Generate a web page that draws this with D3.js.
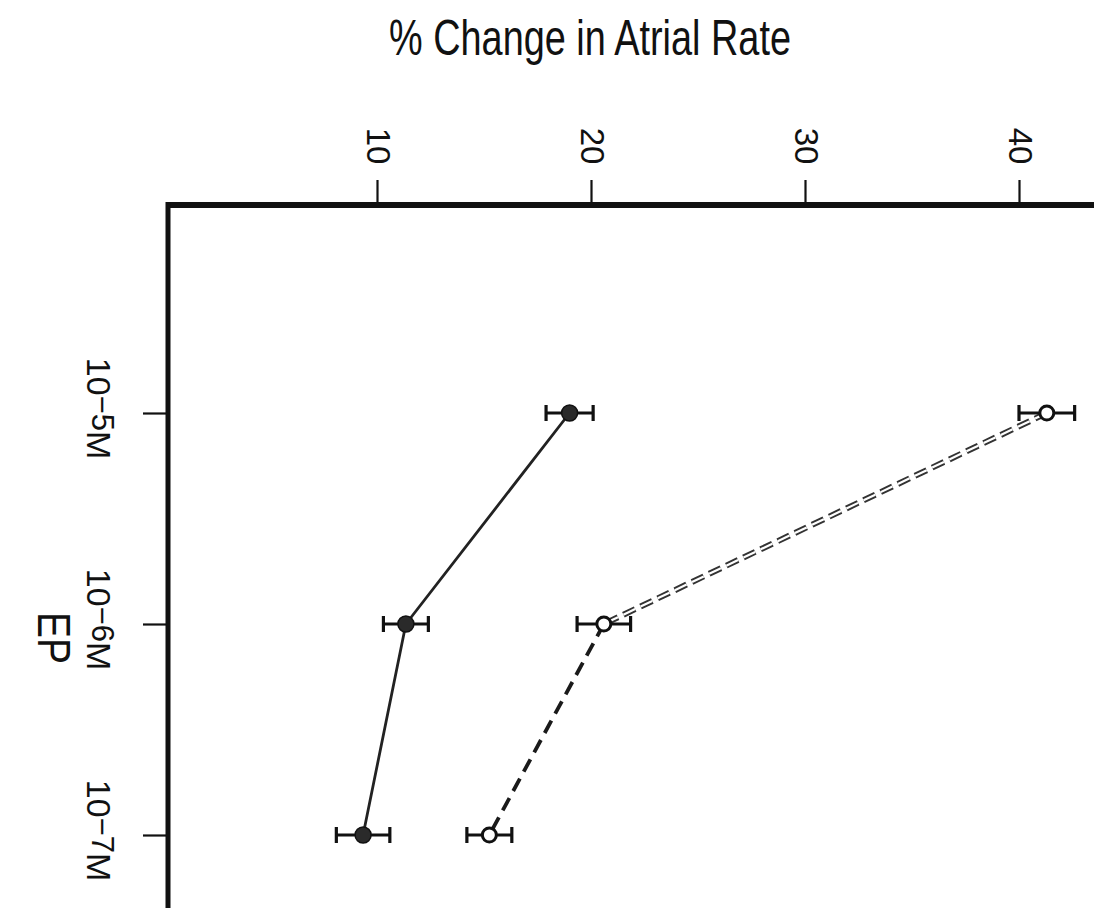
<!DOCTYPE html>
<html>
<head>
<meta charset="utf-8">
<script src="https://cdn.jsdelivr.net/npm/d3@7"></script>
<style>
  html, body { margin: 0; padding: 0; background: #fff; }
  svg { display: block; font-family: "Liberation Sans", Arial, sans-serif; }
</style>
</head>
<body>
<svg id="chart" width="1094" height="908"></svg>
<script>
// Concentrations of EP (categories along the rotated axis)
const concentrations = ["1e-5", "1e-6", "1e-7"];
const exponents = ["5", "6", "7"];

// % change in atrial rate, filled circles (solid line)
const filledMean = [19.0, 11.35, 9.35];
const filledErr  = [1.1, 1.05, 1.25];

// % change in atrial rate, open circles (dashed line)
const openMean = [41.3, 20.6, 15.25];
const openErr  = [1.3, 1.25, 1.05];

// Value axis ticks
const valueTicks = [10, 20, 30, 40];

const svg = d3.select("#chart");
const ink = "#111";

// Value scale runs left-to-right, categories run top-to-bottom
const x = d3.scaleLinear().domain([10, 40]).range([377, 1019]);
const y = d3.scalePoint().domain(concentrations).range([413, 835]);

const axisX = 168;   // left (category) axis position
const axisY = 205;   // top (value) axis position

// Title
svg.append("text")
  .attr("x", 590).attr("y", 55)
  .attr("text-anchor", "middle")
  .attr("font-size", 50)
  .attr("textLength", 402)
  .attr("lengthAdjust", "spacingAndGlyphs")
  .attr("fill", ink)
  .text("% Change in Atrial Rate");

// Top value axis
const gTop = svg.append("g").attr("transform", `translate(0,${axisY})`)
  .call(d3.axisTop(x).tickValues(valueTicks).tickSize(25).tickFormat(d3.format("d")));
gTop.select(".domain").remove();
gTop.selectAll(".tick line").attr("stroke", ink).attr("stroke-width", 2.2);
gTop.selectAll(".tick text")
  .attr("x", 0).attr("y", 0).attr("dy", null)
  .attr("transform", "translate(-11,-59) rotate(90)")
  .attr("text-anchor", "middle")
  .attr("font-size", 33)
  .attr("font-family", "Liberation Sans, Arial, sans-serif")
  .attr("fill", ink);

svg.append("line")
  .attr("x1", axisX - 2).attr("x2", 1094)
  .attr("y1", axisY).attr("y2", axisY)
  .attr("stroke", ink).attr("stroke-width", 6);

// Left category axis
const gLeft = svg.append("g").attr("transform", `translate(${axisX},0)`)
  .call(d3.axisLeft(y).tickSize(25).tickFormat(""));
gLeft.select(".domain").remove();
gLeft.selectAll(".tick line").attr("stroke", ink).attr("stroke-width", 2.2);
gLeft.selectAll(".tick").each(function(d, i) {
  const t = d3.select(this).append("text")
    .attr("transform", "translate(-81,-5) rotate(90)")
    .attr("text-anchor", "middle")
    .attr("font-size", 34)
    .attr("fill", ink);
  t.append("tspan").text("10");
  t.append("tspan").attr("dy", -5).attr("font-size", 31).text("\u2212" + exponents[i]);
  t.append("tspan").attr("dy", 5).text("M");
});

svg.append("line")
  .attr("x1", axisX).attr("x2", axisX)
  .attr("y1", axisY - 3).attr("y2", 908)
  .attr("stroke", ink).attr("stroke-width", 5);

// Category axis title
svg.append("text")
  .attr("transform", `translate(38,${y("1e-6") + 14}) rotate(90)`)
  .attr("text-anchor", "middle")
  .attr("font-size", 46)
  .attr("textLength", 52)
  .attr("lengthAdjust", "spacingAndGlyphs")
  .attr("fill", ink)
  .text("EP");

// Series
const series = [
  { mean: filledMean, err: filledErr, filled: true },
  { mean: openMean,   err: openErr,   filled: false }
];

const line = d3.line().x(d => x(d.v)).y(d => y(d.c));

series.forEach(s => {
  const pts = concentrations.map((c, i) => ({ c, v: s.mean[i], e: s.err[i] }));

  if (s.filled) {
    svg.append("path")
      .datum(pts)
      .attr("fill", "none")
      .attr("stroke", "#222")
      .attr("stroke-width", 2.8)
      .attr("d", line);
  } else {
    // upper segment: hollow (outlined) dashes
    const seg1 = pts.slice(0, 2), seg2 = pts.slice(1);
    svg.append("path").datum(seg1)
      .attr("fill", "none").attr("stroke", "#333")
      .attr("stroke-width", 6).attr("stroke-dasharray", "13,6")
      .attr("d", line);
    svg.append("path").datum(seg1)
      .attr("fill", "none").attr("stroke", "#fff")
      .attr("stroke-width", 2.2).attr("stroke-dasharray", "13,6")
      .attr("d", line);
    // lower segment: solid dashes
    svg.append("path").datum(seg2)
      .attr("fill", "none").attr("stroke", "#1a1a1a")
      .attr("stroke-width", 3.8).attr("stroke-dasharray", "14,8")
      .attr("d", line);
  }

  const eb = svg.append("g").selectAll("g").data(pts).join("g");
  eb.append("line")
    .attr("x1", d => x(d.v - d.e)).attr("x2", d => x(d.v + d.e))
    .attr("y1", d => y(d.c)).attr("y2", d => y(d.c))
    .attr("stroke", ink).attr("stroke-width", 3);
  [-1, 1].forEach(sign => {
    eb.append("line")
      .attr("x1", d => x(d.v + sign * d.e)).attr("x2", d => x(d.v + sign * d.e))
      .attr("y1", d => y(d.c) - 8).attr("y2", d => y(d.c) + 8)
      .attr("stroke", ink).attr("stroke-width", 3.2);
  });
  eb.append("circle")
    .attr("cx", d => x(d.v)).attr("cy", d => y(d.c))
    .attr("r", s.filled ? 8 : 7)
    .attr("fill", s.filled ? "#2a2a2a" : "#fff")
    .attr("stroke", ink)
    .attr("stroke-width", s.filled ? 1.5 : 3);
});
</script>
</body>
</html>
